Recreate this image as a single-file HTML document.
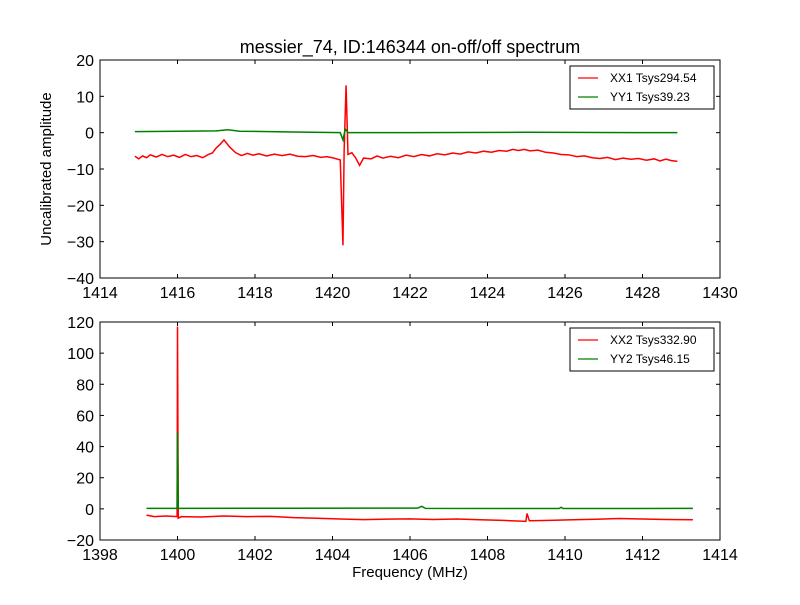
<!DOCTYPE html>
<html><head><meta charset="utf-8"><style>body{margin:0;background:#fff}svg text{font-family:"Liberation Sans",sans-serif}</style></head>
<body>
<svg id="fig" width="800" height="600" xmlns="http://www.w3.org/2000/svg">
<rect width="800" height="600" fill="#fff"/>
<text x="410" y="53" font-size="18" text-anchor="middle">messier_74, ID:146344 on-off/off spectrum</text>
<text x="51" y="169" font-size="15" text-anchor="middle" transform="rotate(-90 51 169)">Uncalibrated amplitude</text>
<text x="410" y="577" font-size="15" text-anchor="middle">Frequency (MHz)</text>
<g id="p1"></g>
<g id="p2"></g>
</svg>
<script>
const xx1F=[1414.9,1415.0,1415.1,1415.2,1415.3,1415.45,1415.6,1415.75,1415.9,1416.05,1416.2,1416.35,1416.5,1416.65,1416.8,1416.9,1417.0,1417.1,1417.2,1417.35,1417.5,1417.65,1417.8,1417.95,1418.1,1418.3,1418.5,1418.7,1418.9,1419.1,1419.3,1419.5,1419.7,1419.85,1420.0,1420.2,1420.27,1420.3,1420.35,1420.4,1420.5,1420.6,1420.7,1420.8,1421.0,1421.15,1421.3,1421.5,1421.7,1421.9,1422.1,1422.3,1422.5,1422.7,1422.9,1423.1,1423.3,1423.5,1423.7,1423.9,1424.1,1424.3,1424.5,1424.65,1424.8,1424.95,1425.1,1425.3,1425.5,1425.7,1425.9,1426.1,1426.3,1426.5,1426.7,1426.9,1427.1,1427.3,1427.5,1427.7,1427.9,1428.1,1428.3,1428.45,1428.6,1428.75,1428.9];
const xx1V=[-6.5,-7.2,-6.4,-6.9,-6.1,-6.7,-6.0,-6.6,-6.2,-6.8,-6.0,-6.6,-6.3,-6.9,-6.0,-5.6,-4.2,-3.2,-2,-4,-5.5,-6.3,-5.7,-6.2,-5.8,-6.4,-5.9,-6.3,-5.9,-6.5,-6.6,-6.3,-6.8,-6.6,-6.9,-7.5,-31,-5,13,-6,-5.5,-7,-9,-7,-7.2,-6.4,-7.0,-6.5,-6.9,-6.2,-6.6,-6.0,-6.4,-5.8,-6.1,-5.6,-5.9,-5.3,-5.6,-5.1,-5.4,-4.9,-5.1,-4.6,-4.9,-4.6,-5.0,-4.8,-5.4,-5.6,-6.0,-6.1,-6.6,-6.4,-6.9,-7.1,-6.8,-7.4,-7.0,-7.3,-7.1,-7.6,-7.2,-7.8,-7.3,-7.7,-7.9];
const yy1F=[1414.9,1416,1417.0,1417.3,1417.6,1419,1420.2,1420.27,1420.33,1420.4,1422,1425,1428.9];
const yy1V=[0.3,0.4,0.5,0.8,0.4,0.2,0,-2,1,0,0,0.1,0];
const xx2F=[1399.2,1399.4,1399.7,1399.99,1400.0,1400.02,1400.1,1400.6,1401.2,1401.8,1402.4,1403.0,1403.6,1404.2,1404.8,1405.4,1406.0,1406.6,1407.2,1407.8,1408.4,1408.99,1409.02,1409.08,1409.6,1410.2,1410.8,1411.4,1412.0,1412.6,1413.3];
const xx2V=[-4,-5,-4.6,-5,117,-6,-5,-5.2,-4.6,-5,-4.8,-5.6,-6,-6.5,-6.9,-6.6,-6.4,-6.8,-6.5,-7,-7.4,-8,-3,-7.6,-7.4,-7,-6.7,-6.2,-6.5,-6.8,-7];
const yy2F=[1399.2,1399.99,1400.0,1400.02,1403,1406.2,1406.3,1406.4,1409.85,1409.9,1409.95,1413.3];
const yy2V=[0.3,0.3,49,0.3,0.4,0.5,1.6,0.3,0.2,1,0.2,0.3];
const x1Ticks=[1414,1416,1418,1420,1422,1424,1426,1428,1430];
const y1Ticks=[-40,-30,-20,-10,0,10,20];
const x2Ticks=[1398,1400,1402,1404,1406,1408,1410,1412,1414];
const y2Ticks=[-20,0,20,40,60,80,100,120];
const NS="http://www.w3.org/2000/svg";
function mk(t,a,p){const e=document.createElementNS(NS,t);for(const k in a)e.setAttribute(k,a[k]);p.appendChild(e);return e;}
function panel(g,top,xmin,xmax,ymin,ymax,xt,yt,series,legend){
 const L=100,R=720,T=top,B=top+218;
 const sx=v=>L+(v-xmin)/(xmax-xmin)*(R-L), sy=v=>B-(v-ymin)/(ymax-ymin)*(B-T);
 for(const s of series){const p=mk('polyline',{points:s.f.map((f,i)=>sx(f)+','+sy(s.v[i])).join(' '),fill:'none',stroke:s.c,'stroke-width':1.5},g);
  
  }
 mk('rect',{x:L,y:T,width:R-L,height:B-T,fill:'none',stroke:'#000','stroke-width':1},g);
 for(const t of xt){const x=sx(t);mk('line',{x1:x,x2:x,y1:B,y2:B-4,stroke:'#000'},g);mk('line',{x1:x,x2:x,y1:T,y2:T+4,stroke:'#000'},g);
  const e=mk('text',{x:x,y:B+20,'font-size':16,'text-anchor':'middle'},g);e.textContent=t;
  
  }
 for(const t of yt){const y=sy(t);mk('line',{x1:L,x2:L+4,y1:y,y2:y,stroke:'#000'},g);mk('line',{x1:R,x2:R-4,y1:y,y2:y,stroke:'#000'},g);
  const e=mk('text',{x:L-6,y:y+6,'font-size':16,'text-anchor':'end'},g);e.textContent=(t<0?'\u2212'+(-t):t);
  
  }
 const lg=mk('g',{},g);
 
 
 mk('rect',{x:570,y:T+6,width:144,height:43,fill:'#fff',stroke:'#000'},lg);
 legend.forEach((l,i)=>{const y=T+18+i*19;mk('line',{x1:578,x2:598,y1:y,y2:y,stroke:l.c,'stroke-width':1.2},lg);
  const e=mk('text',{x:610,y:y+4,'font-size':12},lg);e.textContent=l.t;
  
  });
}
panel(document.getElementById('p1'),60,1414,1430,-40,20,x1Ticks,y1Ticks,
 [{f:xx1F,v:xx1V,c:'#f00',n:'xx1'},{f:yy1F,v:yy1V,c:'#008000',n:'yy1'}],
 [{c:'#f00',t:'XX1 Tsys294.54'},{c:'#008000',t:'YY1 Tsys39.23'}]);
panel(document.getElementById('p2'),322,1398,1414,-20,120,x2Ticks,y2Ticks,
 [{f:xx2F,v:xx2V,c:'#f00',n:'xx2'},{f:yy2F,v:yy2V,c:'#008000',n:'yy2'}],
 [{c:'#f00',t:'XX2 Tsys332.90'},{c:'#008000',t:'YY2 Tsys46.15'}]);
</script>
</body></html>
